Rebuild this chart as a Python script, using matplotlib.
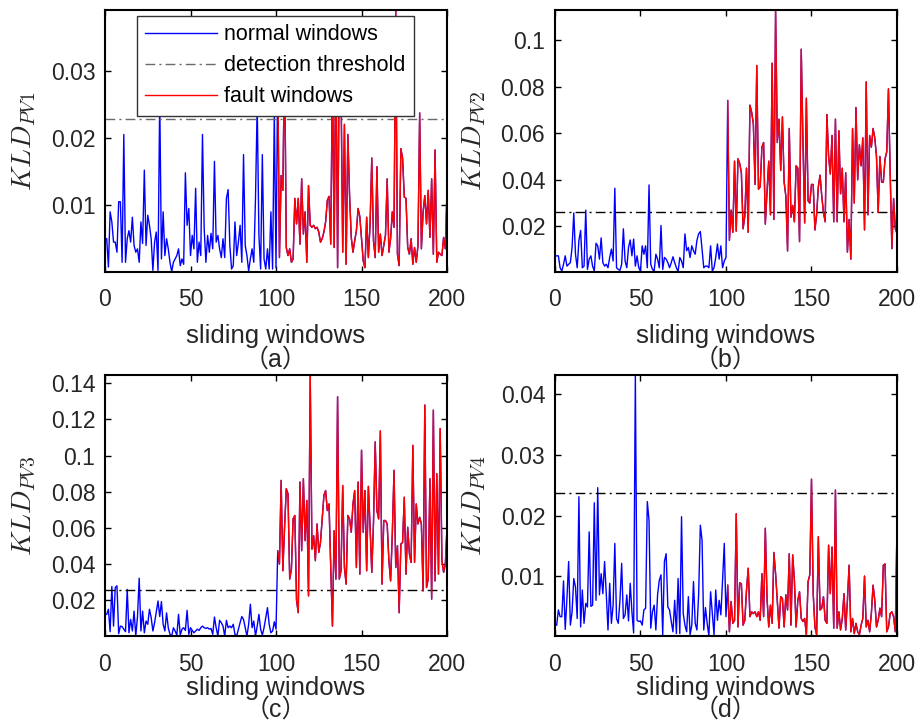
import numpy as np
import matplotlib
matplotlib.use("Agg")
import matplotlib.pyplot as plt
from matplotlib.ticker import MultipleLocator, FuncFormatter

plt.rcParams['font.family'] = ['Liberation Sans', 'DejaVu Sans']
plt.rcParams['mathtext.fontset'] = 'cm'

windows = np.arange(1, 201)

# KLD values: windows 1-100 normal, 101-200 fault
pv1_normal = [0.005, 0.0008, 0.009, 0.0075, 0.0045, 0.0045, 0.003, 0.0105, 0.0105, 0.0015,
              0.0205, 0.0015, 0.005, 0.0062, 0.0045, 0.0082, 0.004, 0.003, 0.0035, 0.0015,
              0.0075, 0.0043, 0.0152, 0.004, 0.0085, 0.007, 0.005, 0.0003, 0.0045, 0.006,
              0.0003, 0.026, 0.002, 0.009, 0.0025, 0.005, 0.0035, 0.0015, 0.0001, 0.0015,
              0.002, 0.0025, 0.0035, 0.001, 0.002, 0.0012, 0.0148, 0.007, 0.0095, 0.0025,
              0.0055, 0.0035, 0.0125, 0.0015, 0.0045, 0.0025, 0.0205, 0.0065, 0.0015, 0.0055,
              0.003, 0.0058, 0.0035, 0.0165, 0.0045, 0.0055, 0.0035, 0.0022, 0.005, 0.0022,
              0.011, 0.0123, 0.004, 0.0005, 0.001, 0.0075, 0.0025, 0.0045, 0.007, 0.0015,
              0.0175, 0.004, 0.0025, 0.0002, 0.002, 0.0035, 0.0015, 0.011, 0.025, 0.0055,
              0.0005, 0.0175, 0.002, 0.0005, 0.0035, 0.0005, 0.009, 0.0005, 0.024, 0.0007]
pv1_fault = [0.030, 0.0022, 0.0144, 0.0122, 0.033, 0.0037, 0.0025, 0.0035, 0.0015, 0.002,
             0.011, 0.0072, 0.011, 0.0042, 0.0139, 0.0057, 0.009, 0.0015, 0.0129, 0.007,
             0.0067, 0.007, 0.0065, 0.0067, 0.006, 0.0045, 0.005, 0.006, 0.0075, 0.0107,
             0.0113, 0.0042, 0.030, 0.0037, 0.035, 0.0007, 0.032, 0.028, 0.003, 0.022,
             0.0012, 0.0205, 0.0115, 0.0052, 0.003, 0.0047, 0.0062, 0.0095, 0.0083, 0.005,
             0.0017, 0.0007, 0.0082, 0.0022, 0.0072, 0.017, 0.0047, 0.0022, 0.0157, 0.003,
             0.0057, 0.0025, 0.004, 0.0055, 0.0139, 0.003, 0.005, 0.009, 0.0067, 0.039,
             0.0027, 0.001, 0.0184, 0.017, 0.0112, 0.011, 0.0037, 0.0027, 0.005, 0.0012,
             0.0037, 0.0015, 0.004, 0.0237, 0.0035, 0.009, 0.0114, 0.0072, 0.0122, 0.0052,
             0.0139, 0.0027, 0.0182, 0.0015, 0.003, 0.0027, 0.0025, 0.0052, 0.0035, 0.0124]

pv2_normal = [0.0074, 0.0074, 0.0023, 0.0009, 0.0038, 0.0074, 0.003, 0.0038, 0.0045, 0.011,
              0.0258, 0.0081, 0.0023, 0.014, 0.0183, 0.0023, 0.003, 0.027, 0.0016, 0.006,
              0.0074, 0.003, 0.0009, 0.0128, 0.0117, 0.006, 0.0151, 0.0045, 0.003, 0.0038,
              0.0023, 0.0067, 0.0103, 0.0052, 0.0364, 0.0023, 0.0016, 0.0012, 0.0038, 0.019,
              0.0052, 0.0023, 0.011, 0.0142, 0.0074, 0.0146, 0.003, 0.0074, 0.0023, 0.0009,
              0.0117, 0.0081, 0.0117, 0.0023, 0.0378, 0.0038, 0.0016, 0.0009, 0.0081, 0.006,
              0.0023, 0.0204, 0.0016, 0.0067, 0.006, 0.0045, 0.0023, 0.0045, 0.007, 0.0045,
              0.0023, 0.0006, 0.0067, 0.0052, 0.0023, 0.0168, 0.0096, 0.011, 0.0067, 0.0117,
              0.0096, 0.0081, 0.014, 0.0168, 0.0178, 0.0103, 0.0023, 0.003, 0.003, 0.0023,
              0.0117, 0.0009, 0.0023, 0.0067, 0.0125, 0.006, 0.0117, 0.0023, 0.0052, 0.0067]
pv2_fault = [0.074, 0.014, 0.027, 0.0175, 0.048, 0.018, 0.049, 0.047, 0.043, 0.019,
             0.0245, 0.045, 0.0175, 0.072, 0.069, 0.064, 0.038, 0.089, 0.036, 0.037,
             0.054, 0.056, 0.021, 0.035, 0.048, 0.025, 0.090, 0.023, 0.1128, 0.056,
             0.066, 0.044, 0.067, 0.039, 0.033, 0.0095, 0.062, 0.024, 0.029, 0.022,
             0.046, 0.045, 0.0135, 0.096, 0.0565, 0.0215, 0.075, 0.031, 0.030, 0.038,
             0.038, 0.0185, 0.025, 0.037, 0.042, 0.033, 0.026, 0.022, 0.068, 0.050,
             0.0425, 0.059, 0.022, 0.066, 0.022, 0.061, 0.034, 0.045, 0.022, 0.043,
             0.009, 0.023, 0.006, 0.062, 0.030, 0.071, 0.040, 0.055, 0.046, 0.058,
             0.0185, 0.082, 0.025, 0.059, 0.054, 0.062, 0.058, 0.050, 0.026, 0.050,
             0.039, 0.039, 0.049, 0.052, 0.079, 0.043, 0.0105, 0.032, 0.019, 0.017]

pv3_normal = [0.0122, 0.015, 0.0026, 0.0276, 0.0057, 0.027, 0.028, 0.0015, 0.0057, 0.0054,
              0.004, 0.0026, 0.026, 0.002, 0.0094, 0.003, 0.014, 0.0002, 0.011, 0.0322,
              0.003, 0.014, 0.002, 0.0085, 0.0067, 0.015, 0.0104, 0.003, 0.0076, 0.0137,
              0.0196, 0.011, 0.0193, 0.0067, 0.003, 0.013, 0.0048, 0.0011, 0.0002, 0.0048,
              0.003, 0.0007, 0.0122, 0.0007, 0.004, 0.0048, 0.0033, 0.0144, 0.0011, 0.0048,
              0.0033, 0.002, 0.003, 0.004, 0.0033, 0.0048, 0.0057, 0.0048, 0.0044, 0.0048,
              0.004, 0.0044, 0.0011, 0.0107, 0.0048, 0.0002, 0.0089, 0.0076, 0.0057, 0.0002,
              0.0089, 0.0048, 0.0057, 0.0048, 0.0067, 0.0011, 0.0002, 0.004, 0.0076, 0.011,
              0.0094, 0.0048, 0.0002, 0.0067, 0.0178, 0.0048, 0.0085, 0.0002, 0.0057, 0.0122,
              0.004, 0.0007, 0.0048, 0.0104, 0.0159, 0.0067, 0.002, 0.003, 0.0081, 0.004]
pv3_fault = [0.0474, 0.040, 0.0863, 0.0363, 0.0604, 0.0817, 0.0789, 0.0317, 0.0372, 0.065,
             0.0669, 0.020, 0.0131, 0.0854, 0.0474, 0.0872, 0.053, 0.0752, 0.0224, 0.1446,
             0.0483, 0.0557, 0.0419, 0.0622, 0.0465, 0.052, 0.065, 0.078, 0.0807, 0.0696,
             0.0733, 0.0381, 0.0057, 0.0585, 0.0317, 0.1326, 0.0317, 0.0363, 0.0835, 0.0381,
             0.0289, 0.0669, 0.065, 0.0576, 0.0733, 0.0807, 0.0381, 0.0854, 0.0344, 0.103,
             0.0576, 0.0807, 0.0363, 0.083, 0.0604, 0.0354, 0.0631, 0.1076, 0.0696, 0.065,
             0.1137, 0.0289, 0.0641, 0.0641, 0.0622, 0.0419, 0.0307, 0.0567, 0.0919, 0.0381,
             0.0502, 0.0131, 0.0511, 0.052, 0.077, 0.0344, 0.0604, 0.0456, 0.0409, 0.1057,
             0.0409, 0.0733, 0.0622, 0.0659, 0.0622, 0.0252, 0.128, 0.027, 0.0317, 0.0872,
             0.0206, 0.1252, 0.0307, 0.090, 0.0344, 0.115, 0.0419, 0.0354, 0.040, 0.0604]

pv4_normal = [0.0019, 0.0044, 0.0033, 0.0033, 0.0092, 0.0012, 0.0063, 0.0124, 0.0019, 0.0041,
              0.0096, 0.0082, 0.003, 0.0231, 0.0016, 0.0077, 0.0022, 0.0055, 0.0049, 0.0173,
              0.005, 0.0052, 0.0221, 0.006, 0.0246, 0.0069, 0.0104, 0.0071, 0.0124, 0.0071,
              0.0011, 0.0088, 0.0022, 0.0052, 0.0154, 0.003, 0.0022, 0.006, 0.0121, 0.003,
              0.0036, 0.0069, 0.0026, 0.0088, 0.0041, 0.0006, 0.0432, 0.0027, 0.0025, 0.0026,
              0.0019, 0.0044, 0.0047, 0.0223, 0.0192, 0.0014, 0.0041, 0.0052, 0.0011, 0.0069,
              0.0093, 0.0102, 0.0003, 0.0124, 0.0137, 0.0049, 0.0044, 0.0025, 0.0008, 0.006,
              0.0005, 0.0096, 0.0005, 0.0198, 0.0038, 0.0019, 0.0008, 0.0066, 0.0003, 0.0019,
              0.0091, 0.0022, 0.0011, 0.0069, 0.0184, 0.0159, 0.0011, 0.0048, 0.0022, 0.0001,
              0.0074, 0.0038, 0.0003, 0.0077, 0.0027, 0.006, 0.0036, 0.0093, 0.0154, 0.0033]
pv4_fault = [0.0085, 0.0008, 0.0058, 0.0022, 0.0027, 0.0203, 0.0016, 0.0089, 0.0087, 0.0019,
             0.0027, 0.0077, 0.0113, 0.0033, 0.0041, 0.0038, 0.0041, 0.0033, 0.0041, 0.0027,
             0.0104, 0.0033, 0.0179, 0.0063, 0.0016, 0.0052, 0.0022, 0.0139, 0.0104, 0.006,
             0.0014, 0.0066, 0.0063, 0.0016, 0.0069, 0.0044, 0.0137, 0.0019, 0.0135, 0.0093,
             0.0016, 0.006, 0.0074, 0.003, 0.0025, 0.003, 0.0003, 0.0091, 0.0102, 0.026,
             0.0071, 0.0016, 0.0003, 0.0165, 0.0044, 0.0047, 0.0066, 0.0027, 0.0022, 0.0151,
             0.0071, 0.0148, 0.0014, 0.0242, 0.0014, 0.0041, 0.0011, 0.003, 0.0071, 0.0011,
             0.006, 0.0118, 0.0008, 0.003, 0.0005, 0.0022, 0.0008, 0.0003, 0.0019, 0.003,
             0.01, 0.0016, 0.0027, 0.0008, 0.0038, 0.0085, 0.006, 0.0016, 0.0027, 0.0047,
             0.0033, 0.0118, 0.012, 0.0008, 0.0016, 0.0038, 0.0041, 0.0033, 0.0008, 0.0184]

thresholds = [0.0228, 0.026, 0.0259, 0.0237]
normal_sets = [pv1_normal, pv2_normal, pv3_normal, pv4_normal]
fault_sets = [pv1_fault, pv2_fault, pv3_fault, pv4_fault]
ylabels = [r'$KLD_{PV1}$', r'$KLD_{PV2}$', r'$KLD_{PV3}$', r'$KLD_{PV4}$']
captions = ['（a）', '（b）', '（c）', '（d）']
ystep = [0.01, 0.02, 0.02, 0.01]
thr_colors = ['#6a6a6a', 'k', 'k', 'k']

fig = plt.figure(figsize=(9.17, 7.24), dpi=100)
boxes = [[0.1145, 0.6247, 0.373, 0.3615], [0.6052, 0.6247, 0.373, 0.3615],
         [0.1145, 0.1215, 0.373, 0.3605], [0.6052, 0.1215, 0.373, 0.3605]]

for i in range(4):
    ax = fig.add_axes(boxes[i])
    kld = np.concatenate([normal_sets[i], fault_sets[i]])
    ax.plot(windows, kld, color='b', lw=1.0, label='normal windows')
    ax.axhline(thresholds[i], color=thr_colors[i], lw=1.0, ls=(0, (7, 3, 1.5, 3)),
               label='detection threshold')
    ax.plot(windows[100:], kld[100:], color='r', lw=1.0, label='fault windows')

    ax.set_xlim(0, 200)
    ax.set_ylim(kld.min(), kld.max())
    ax.xaxis.set_major_locator(MultipleLocator(50))
    ax.yaxis.set_major_locator(MultipleLocator(ystep[i]))
    ax.yaxis.set_major_formatter(FuncFormatter(lambda v, p: '%g' % round(v, 4)))
    ax.tick_params(direction='in', top=True, right=True, length=4, width=1,
                   labelsize=16.5, labelcolor='#262626')
    ax.tick_params(axis='x', pad=12)
    ax.tick_params(axis='y', pad=7)
    for s in ax.spines.values():
        s.set_linewidth(1.5)

    ax.set_xlabel('sliding windows', fontsize=18.5, color='#262626')
    ax.set_ylabel(ylabels[i], fontsize=20, color='#262626')
    ax.yaxis.label.set_va('center')
    ax.yaxis.set_label_coords(-0.235, 0.5)
    if i < 2:
        ax.xaxis.set_label_coords(0.5, -0.2)
        cap_y = -0.335
    else:
        ax.xaxis.set_label_coords(0.5, -0.152)
        cap_y = -0.283
    ax.text(0.5, cap_y, captions[i], transform=ax.transAxes, ha='center', va='center',
            fontsize=18, color='#262626',
            family=['Liberation Sans', 'Noto Sans CJK SC', 'DejaVu Sans'])

    if i == 0:
        leg = ax.legend(loc='upper left', bbox_to_anchor=(0.093, 0.977), borderaxespad=0,
                        fontsize=15.5, handlelength=3.35, labelspacing=0.46, fancybox=False,
                        framealpha=1, edgecolor='#333333', borderpad=0.39, handletextpad=0.3)
        leg.get_frame().set_linewidth(1.0)

fig.savefig('out.png', dpi=100)
